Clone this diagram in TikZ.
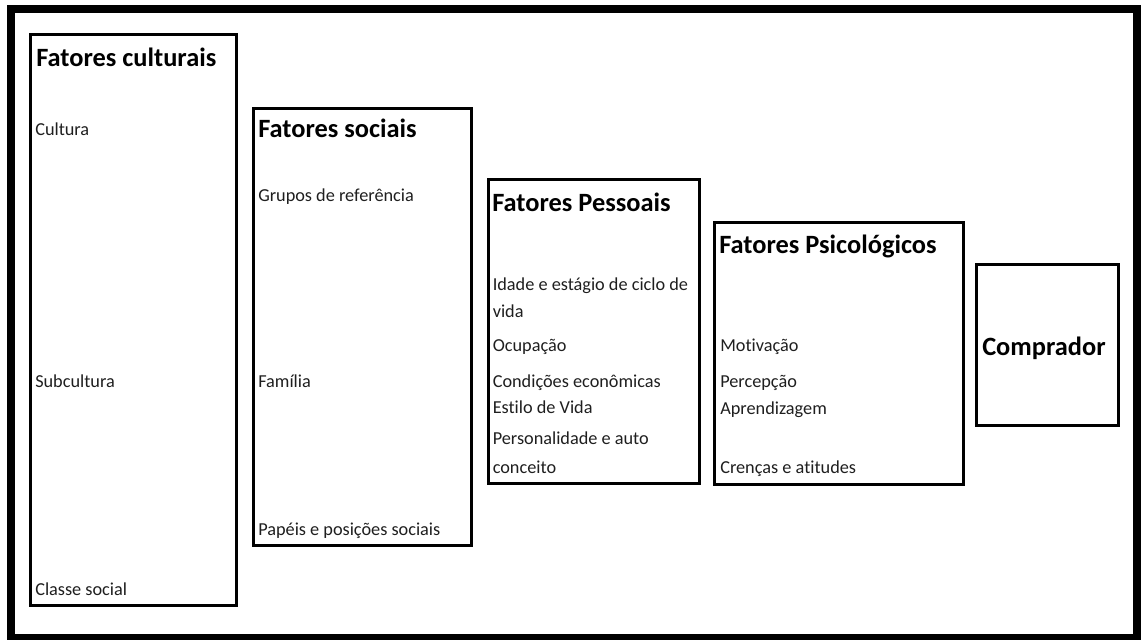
\documentclass[tikz,border=0pt]{standalone}
\usepackage{fontspec}
\setmainfont{Carlito}[Ligatures=NoCommon]
\usepackage{tikz}

\begin{document}
\begin{tikzpicture}[x=0.75pt,y=-0.75pt]
\def\lw{2.25pt}
\def\fw{6pt}
\tikzset{
  frame/.style={draw=black,line width=\lw},
  title/.style={anchor=base west,inner sep=0pt,font=\fontsize{19.8}{22}\selectfont\bfseries},
  item/.style={anchor=base west,inner sep=0pt,text=black!88,font=\fontsize{13.7}{16}\selectfont}
}
\useasboundingbox (0,0) rectangle (1141,639);
\fill[white] (0,0) rectangle (1141,639);
\draw[line width=\fw] (10.5,9) rectangle (1137,637.5);
% boxes
\draw[frame] (30.5,34.5) rectangle (236.5,605.5);
\draw[frame] (253,108) rectangle (471,545);
\draw[frame] (488,179) rectangle (699.5,483.5);
\draw[frame] (714.5,222) rectangle (963,484);
\draw[frame] (976.5,264) rectangle (1118,425);
% titles
\node[title] (cult) at (36,66) {Fatores culturais};
\node[title] (soc) at (258,137) {Fatores sociais};
\node[title] (pess) at (492,211) {Fatores Pessoais};
\node[title] (psic) at (719,253) {Fatores Psicológicos};
\node[title] (comp) at (982,355) {Comprador};
% items
\foreach \t/\y [count=\i] in {Cultura/135,Subcultura/387,Classe social/595}{
\node[item] (cult\i) at (35,\y) {\t};}
\foreach \t/\y [count=\i] in {Grupos de referência/201,Família/387,Papéis e posições sociais/535}{
\node[item] (soc\i) at (258,\y) {\t};}
\foreach \t/\y [count=\i] in {Idade e estágio de ciclo de/290,vida/317,Ocupação/351,Condições econômicas/387,Estilo de Vida/413,Personalidade e auto/444,conceito/473}{
\node[item] (pess\i) at (492.5,\y) {\t};}
\foreach \t/\y [count=\i] in {Motivação/351,Percepção/387,Aprendizagem/414,Crenças e atitudes/473}{
\node[item] (psic\i) at (720,\y) {\t};}
\end{tikzpicture}
\end{document}
